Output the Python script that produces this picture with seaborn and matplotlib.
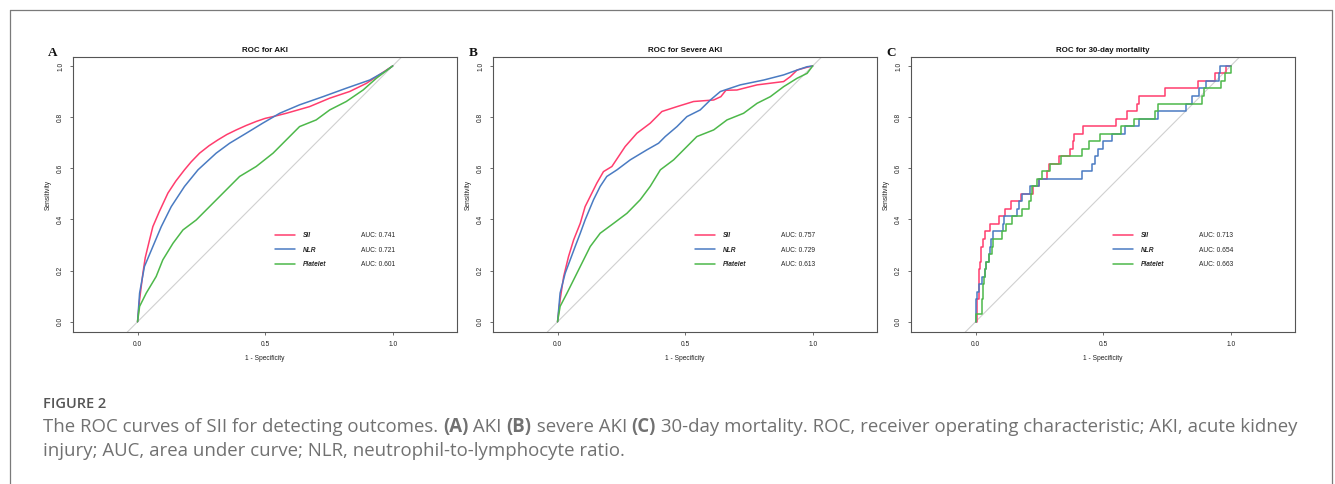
import numpy as np
import matplotlib
matplotlib.use("Agg")
import matplotlib.pyplot as plt
from matplotlib.lines import Line2D
import seaborn as sns

# ========== data ==========
marker_names = ["SII", "NLR", "Platelet"]
line_colors = ["#FF3D6E", "#4A7BC2", "#4DB84A"]

panel_letters = ["A", "B", "C"]
panel_titles = ["ROC for AKI", "ROC for Severe AKI", "ROC for 30-day mortality"]

auc_aki = [0.741, 0.721, 0.601]
auc_severe = [0.757, 0.729, 0.613]
auc_mort = [0.713, 0.654, 0.663]

# A: AKI
aki_sii_fpr = [0, 0.008, 0.021, 0.03, 0.047, 0.06, 0.085, 0.119, 0.15, 0.184, 0.21, 0.243, 0.28, 0.315,
               0.35, 0.387, 0.425, 0.465, 0.5, 0.531, 0.583, 0.674, 0.753, 0.831, 0.897, 0.956, 1.0]
aki_sii_tpr = [0, 0.086, 0.19, 0.25, 0.32, 0.372, 0.43, 0.503, 0.55, 0.594, 0.625, 0.659, 0.688, 0.711,
               0.732, 0.75, 0.767, 0.783, 0.795, 0.802, 0.815, 0.841, 0.874, 0.90, 0.932, 0.971, 1.0]
aki_nlr_fpr = [0, 0.008, 0.027, 0.06, 0.093, 0.132, 0.184, 0.237, 0.308, 0.361, 0.426, 0.49, 0.557,
               0.635, 0.727, 0.818, 0.91, 0.969, 1.0]
aki_nlr_tpr = [0, 0.112, 0.216, 0.294, 0.372, 0.45, 0.529, 0.594, 0.659, 0.698, 0.737, 0.776, 0.815,
               0.848, 0.88, 0.913, 0.945, 0.978, 1.0]
aki_plt_fpr = [0, 0.008, 0.034, 0.073, 0.099, 0.139, 0.178, 0.23, 0.282, 0.335, 0.4, 0.465, 0.531,
               0.583, 0.635, 0.70, 0.753, 0.818, 0.884, 0.936, 1.0]
aki_plt_tpr = [0, 0.06, 0.112, 0.177, 0.242, 0.307, 0.359, 0.398, 0.45, 0.503, 0.568, 0.607, 0.659,
               0.711, 0.763, 0.789, 0.828, 0.861, 0.906, 0.952, 1.0]

# B: severe AKI
sev_sii_fpr = [0, 0.01, 0.024, 0.043, 0.063, 0.089, 0.108, 0.128, 0.154, 0.18, 0.213, 0.239, 0.265,
               0.311, 0.363, 0.409, 0.468, 0.533, 0.612, 0.64, 0.66, 0.703, 0.782, 0.886, 0.912,
               0.939, 0.978, 1.0]
sev_sii_tpr = [0, 0.086, 0.177, 0.255, 0.32, 0.385, 0.45, 0.49, 0.542, 0.587, 0.607, 0.646, 0.685,
               0.737, 0.776, 0.822, 0.841, 0.861, 0.867, 0.88, 0.905, 0.906, 0.926, 0.939, 0.958,
               0.984, 0.995, 1.0]
sev_nlr_fpr = [0, 0.01, 0.03, 0.069, 0.089, 0.108, 0.141, 0.167, 0.193, 0.233, 0.285, 0.35, 0.396,
               0.422, 0.468, 0.507, 0.559, 0.599, 0.638, 0.716, 0.808, 0.886, 0.939, 0.978, 1.0]
sev_nlr_tpr = [0, 0.112, 0.19, 0.294, 0.346, 0.398, 0.477, 0.529, 0.568, 0.594, 0.633, 0.672, 0.698,
               0.724, 0.763, 0.802, 0.828, 0.867, 0.90, 0.926, 0.945, 0.965, 0.984, 0.997, 1.0]
sev_plt_fpr = [0, 0.01, 0.037, 0.063, 0.089, 0.128, 0.167, 0.22, 0.272, 0.324, 0.363, 0.403, 0.455,
               0.507, 0.546, 0.612, 0.664, 0.729, 0.782, 0.834, 0.886, 0.939, 0.978, 1.0]
sev_plt_tpr = [0, 0.06, 0.112, 0.164, 0.216, 0.294, 0.346, 0.385, 0.424, 0.477, 0.529, 0.594, 0.633,
               0.685, 0.724, 0.75, 0.789, 0.815, 0.854, 0.88, 0.919, 0.952, 0.971, 1.0]

# C: 30-day mortality (step curves, value held from each fpr to the next)
mort_sii_fpr = [0, 0.007, 0.012, 0.016, 0.022, 0.03, 0.037, 0.056, 0.093, 0.115, 0.138, 0.18, 0.225,
                0.25, 0.279, 0.288, 0.329, 0.371, 0.38, 0.387, 0.421, 0.552, 0.594, 0.633, 0.64,
                0.744, 0.873, 0.937, 0.983, 1.0]
mort_sii_tpr = [0, 0.088, 0.206, 0.235, 0.294, 0.324, 0.353, 0.382, 0.412, 0.441, 0.471, 0.5, 0.529,
                0.559, 0.588, 0.618, 0.647, 0.676, 0.706, 0.735, 0.765, 0.794, 0.824, 0.853, 0.882,
                0.912, 0.941, 0.971, 1.0, 1.0]
mort_nlr_fpr = [0, 0.001, 0.007, 0.013, 0.024, 0.037, 0.039, 0.052, 0.056, 0.059, 0.069, 0.109, 0.113,
                0.161, 0.17, 0.181, 0.214, 0.25, 0.417, 0.456, 0.469, 0.48, 0.498, 0.535, 0.587,
                0.64, 0.714, 0.823, 0.849, 0.875, 0.902, 0.954, 0.958, 1.0]
mort_nlr_tpr = [0, 0.088, 0.118, 0.147, 0.176, 0.206, 0.235, 0.265, 0.294, 0.324, 0.353, 0.382, 0.412,
                0.441, 0.471, 0.5, 0.529, 0.559, 0.588, 0.618, 0.647, 0.676, 0.706, 0.735, 0.765,
                0.794, 0.824, 0.853, 0.882, 0.912, 0.941, 0.971, 1.0, 1.0]
mort_plt_fpr = [0, 0, 0.024, 0.026, 0.029, 0.031, 0.034, 0.037, 0.041, 0.052, 0.063, 0.069, 0.102,
                0.119, 0.142, 0.181, 0.211, 0.216, 0.22, 0.24, 0.262, 0.292, 0.334, 0.417, 0.443,
                0.486, 0.57, 0.62, 0.705, 0.714, 0.889, 0.895, 0.963, 0.976, 1.0]
mort_plt_tpr = [0, 0.029, 0.059, 0.088, 0.118, 0.147, 0.176, 0.206, 0.235, 0.265, 0.294, 0.324, 0.353,
                0.382, 0.412, 0.441, 0.471, 0.5, 0.529, 0.559, 0.588, 0.618, 0.647, 0.676, 0.706,
                0.735, 0.765, 0.794, 0.824, 0.853, 0.882, 0.912, 0.941, 0.971, 1.0]

panels = [
    [(aki_sii_fpr, aki_sii_tpr), (aki_nlr_fpr, aki_nlr_tpr), (aki_plt_fpr, aki_plt_tpr)],
    [(sev_sii_fpr, sev_sii_tpr), (sev_nlr_fpr, sev_nlr_tpr), (sev_plt_fpr, sev_plt_tpr)],
    [(mort_sii_fpr, mort_sii_tpr), (mort_nlr_fpr, mort_nlr_tpr), (mort_plt_fpr, mort_plt_tpr)],
]
panel_aucs = [auc_aki, auc_severe, auc_mort]
panel_steps = [False, False, True]

caption_head = "FIGURE 2"
caption_line1 = [("The ROC curves of SII for detecting outcomes. ", "normal"), ("(A)", "bold"),
                 (" AKI ", "normal"), ("(B)", "bold"), (" severe AKI ", "normal"), ("(C)", "bold"),
                 (" 30-day mortality. ROC, receiver operating characteristic; AKI, acute kidney", "normal")]
caption_line2 = "injury; AUC, area under curve; NLR, neutrophil-to-lymphocyte ratio."

# ========== style ==========
sns.set_theme(style="ticks")
plt.rcParams['font.family'] = ['Liberation Sans', 'DejaVu Sans']
plt.rcParams['font.size'] = 4.8
edge = "#555555"

W, H = 1335, 484
fig = plt.figure(figsize=(W / 100, H / 100), dpi=100)
fig.patch.set_facecolor("white")

axes_left_px = [73, 493, 911]
axes_w_px = 384
axes_top_px, axes_bot_px = 57, 332

for i in range(3):
    ax = fig.add_axes([axes_left_px[i] / W, 1 - axes_bot_px / H,
                       axes_w_px / W, (axes_bot_px - axes_top_px) / H])
    # chance line across the whole box
    ax.axline((0, 0), (1, 1), color="#d0d0d0", lw=0.8, zorder=1)
    handles = []
    for (fpr, tpr), col, name in zip(panels[i], line_colors, marker_names):
        kw = dict(drawstyle="steps-post") if panel_steps[i] else {}
        sns.lineplot(x=fpr, y=tpr, ax=ax, color=col, lw=1.1, estimator=None,
                     sort=False, zorder=3, **kw)
        handles.append(Line2D([], [], color=col, lw=1.1))
    ax.set_xlim(-0.253, 1.252)
    ax.set_ylim(-0.04, 1.035)
    ax.set_xticks([0, 0.5, 1.0])
    ax.set_xticklabels(["0.0", "0.5", "1.0"])
    ax.set_yticks([0, 0.2, 0.4, 0.6, 0.8, 1.0])
    ax.set_yticklabels(["0.0", "0.2", "0.4", "0.6", "0.8", "1.0"], rotation=90, va="center")
    ax.tick_params(length=2.5, width=0.6, color=edge, labelsize=4.8, labelcolor="#222222")
    ax.tick_params(axis="x", pad=4.2)
    ax.tick_params(axis="y", pad=3.8)
    for sp in ax.spines.values():
        sp.set_visible(True)
        sp.set_color(edge)
        sp.set_linewidth(0.8)
    ax.set_xlabel("1 - Specificity", fontsize=4.8, labelpad=4.5, color="#222222")
    ax.set_ylabel("Sensitivity", fontsize=4.8, labelpad=4.0, color="#222222")
    ax.set_title(panel_titles[i], fontsize=5.7, fontweight="bold", pad=3.5, color="#111111")

    leg1 = ax.legend(handles, marker_names, loc="center left", bbox_to_anchor=(0.526, 0.298),
                     frameon=False, handlelength=3.0, handletextpad=1.2, labelspacing=1.1,
                     borderpad=0, borderaxespad=0,
                     prop=dict(family="Liberation Sans", weight="bold", style="italic", size=4.8))
    ax.add_artist(leg1)
    auc_labels = [f"AUC: {a:.3f}" for a in panel_aucs[i]]
    blank = [Line2D([], [], color="none") for _ in auc_labels]
    ax.legend(blank, auc_labels, loc="center left", bbox_to_anchor=(0.75, 0.298),
              frameon=False, handlelength=0, handletextpad=0, labelspacing=1.1,
              borderpad=0, borderaxespad=0,
              prop=dict(family="Liberation Sans", size=4.8))

    fig.text((axes_left_px[i] - 20) / W, 1 - 56 / H, panel_letters[i], fontsize=9.5,
             fontweight="bold", family=["Liberation Serif", "DejaVu Serif"],
             ha="center", va="baseline", color="#111111")

# outer frame (open at the bottom)
fr = dict(color="#7a7a7a", lw=0.9, transform=fig.transFigure)
fig.add_artist(Line2D([9.5 / W, 1331.5 / W], [1 - 10 / H, 1 - 10 / H], **fr))
fig.add_artist(Line2D([9.5 / W, 9.5 / W], [1 - 10 / H, 0], **fr))
fig.add_artist(Line2D([1331.5 / W, 1331.5 / W], [1 - 10 / H, 0], **fr))

# caption
cap_font = ["Open Sans", "DejaVu Sans"]
cap_x = 43 / W
cap_size = 13.4
cap_color = "#717171"
fig.text(cap_x, 1 - 404 / H, caption_head, fontsize=10.5, fontweight="semibold",
         family=cap_font, color="#555555", va="center")

renderer = fig.canvas.get_renderer()
x = cap_x
for txt, wt in caption_line1:
    t = fig.text(x, 1 - 427 / H, txt, fontsize=cap_size, fontweight=wt, family=cap_font,
                 color=cap_color, va="center")
    bb = t.get_window_extent(renderer=renderer)
    x = bb.x1 / fig.bbox.width
fig.text(cap_x, 1 - 451 / H, caption_line2, fontsize=cap_size, family=cap_font,
         color=cap_color, va="center")

fig.savefig("out.png", dpi=100, facecolor="white")
